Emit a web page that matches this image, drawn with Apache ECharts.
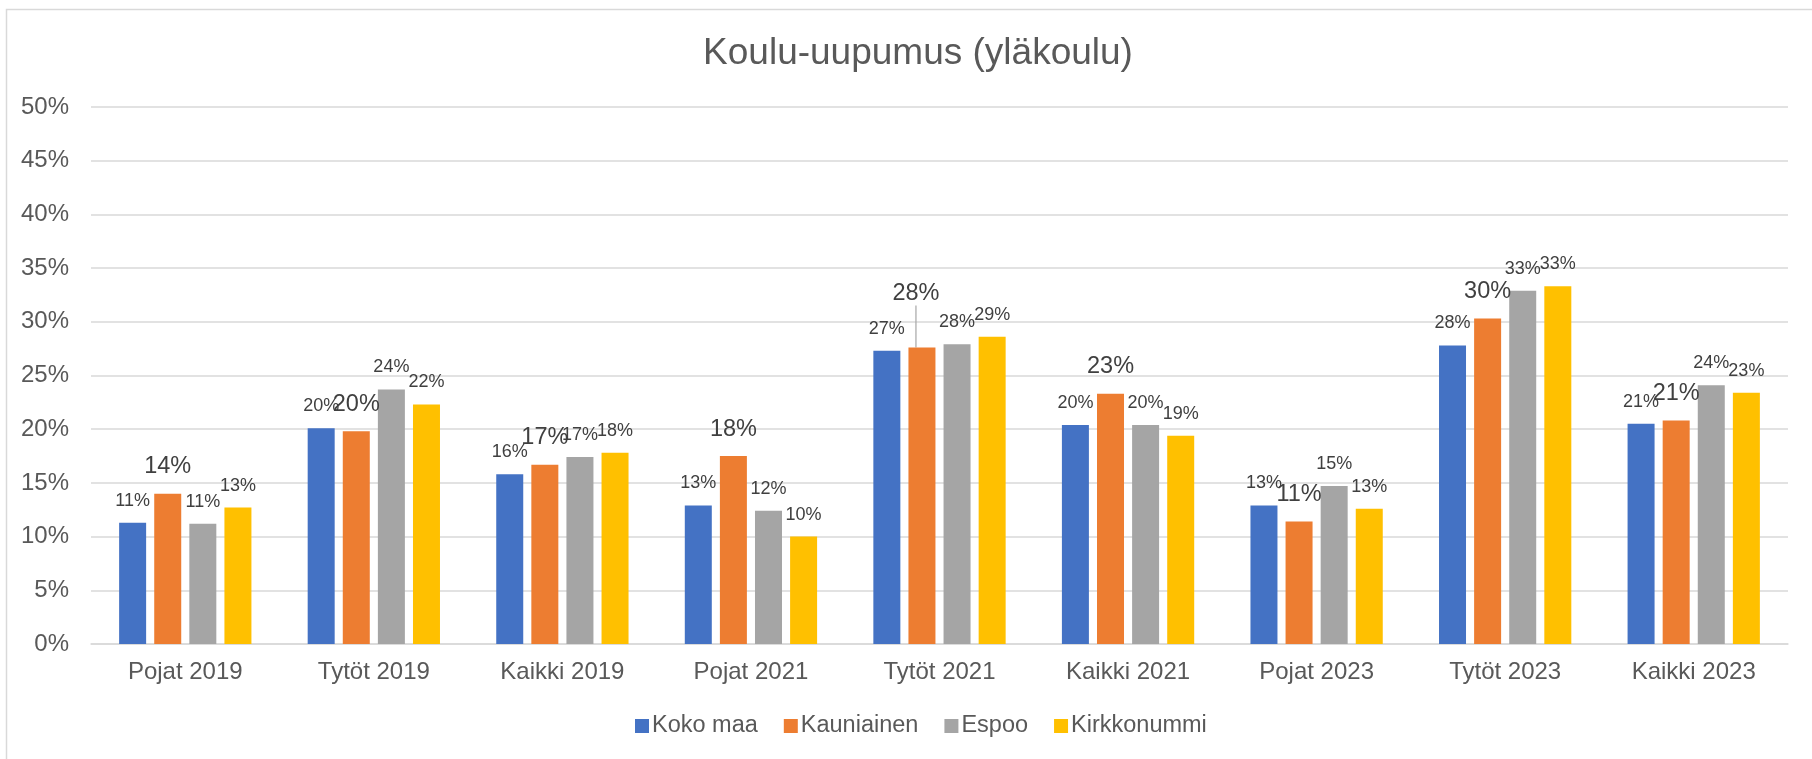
<!DOCTYPE html>
<html>
<head>
<meta charset="utf-8">
<script src="https://cdn.jsdelivr.net/npm/echarts@6/dist/echarts.min.js"></script>
<style>
html,body{margin:0;padding:0;background:#fff;}
#chart{width:1812px;height:759px;}
</style>
</head>
<body>
<div id="chart"></div>
<script>
const categories = ['Pojat 2019','Tytöt 2019','Kaikki 2019','Pojat 2021','Tytöt 2021','Kaikki 2021','Pojat 2023','Tytöt 2023','Kaikki 2023'];
const kokoMaa     = [11.3, 20.1, 15.8, 12.9, 27.3, 20.4, 12.9, 27.8, 20.5];
const kauniainen  = [14.0, 19.8, 16.7, 17.5, 27.6, 23.3, 11.4, 30.3, 20.8];
const espoo       = [11.2, 23.7, 17.4, 12.4, 27.9, 20.4, 14.7, 32.9, 24.1];
const kirkkonummi = [12.7, 22.3, 17.8, 10.0, 28.6, 19.4, 12.6, 33.3, 23.4];
const seriesNames = ['Koko maa','Kauniainen','Espoo','Kirkkonummi'];
const colors = ['#4472C4','#ED7D31','#A5A5A5','#FFC000'];
const yTicks = {min: 0, max: 50, interval: 5};
const title = 'Koulu-uupumus (yläkoulu)';

const FONT = '"Liberation Sans", Arial, sans-serif';
const chart = echarts.init(document.getElementById('chart'), null, {renderer: 'canvas'});

function makeSeries(name, values, color, big) {
  return {
    name: name,
    type: 'bar',
    barWidth: 27,
    barGap: '30%',
    itemStyle: {color: color},
    label: {
      show: true,
      position: 'top',
      distance: big ? 15 : 13,
      color: '#404040',
      fontFamily: FONT,
      fontSize: big ? 23.5 : 18,
      formatter: p => Math.round(p.value) + '%'
    },
    data: values.map((v, i) => {
      if (big && i === 4) {
        return {value: v, labelLine: {show: true, lineStyle: {color: '#a6a6a6', width: 1.2}}};
      }
      return v;
    }),
    labelLayout: big ? function (params) {
      if (params.dataIndex === 4) return {dx: -6, dy: -27};
      return {};
    } : undefined
  };
}

chart.setOption({
  backgroundColor: '#fff',
  animation: false,
  color: colors,
  title: {
    text: title,
    left: 913,
    top: 30,
    textAlign: 'center',
    textStyle: {fontFamily: FONT, fontSize: 37, fontWeight: 'normal', color: '#595959'}
  },
  graphic: [{
    type: 'rect',
    left: 4, top: 7,
    shape: {width: 1830, height: 780},
    style: {fill: 'none', stroke: '#d9d9d9', lineWidth: 1.5},
    silent: true
  }],
  legend: {
    data: seriesNames,
    left: 630,
    top: 709,
    itemWidth: 14,
    itemHeight: 14,
    itemGap: 26,
    icon: 'rect',
    textStyle: {fontFamily: FONT, fontSize: 23.5, color: '#595959', padding: [0, 0, 0, -2]}
  },
  grid: {left: 91, right: 24, top: 107, bottom: 115, containLabel: false, outerBoundsMode: 'none'},
  xAxis: {
    type: 'category',
    data: categories,
    axisTick: {show: false},
    axisLine: {show: true, lineStyle: {color: '#d9d9d9', width: 1.5}},
    axisLabel: {fontFamily: FONT, fontSize: 24, color: '#595959', margin: 16}
  },
  yAxis: {
    type: 'value',
    min: yTicks.min, max: yTicks.max, interval: yTicks.interval,
    axisLine: {show: false},
    axisTick: {show: false},
    splitLine: {lineStyle: {color: '#d9d9d9', width: 1.5}},
    axisLabel: {fontFamily: FONT, fontSize: 24, color: '#595959', margin: 22, formatter: '{value}%'}
  },
  series: [
    makeSeries(seriesNames[0], kokoMaa, colors[0], false),
    makeSeries(seriesNames[1], kauniainen, colors[1], true),
    makeSeries(seriesNames[2], espoo, colors[2], false),
    makeSeries(seriesNames[3], kirkkonummi, colors[3], false)
  ]
});
</script>
</body>
</html>
